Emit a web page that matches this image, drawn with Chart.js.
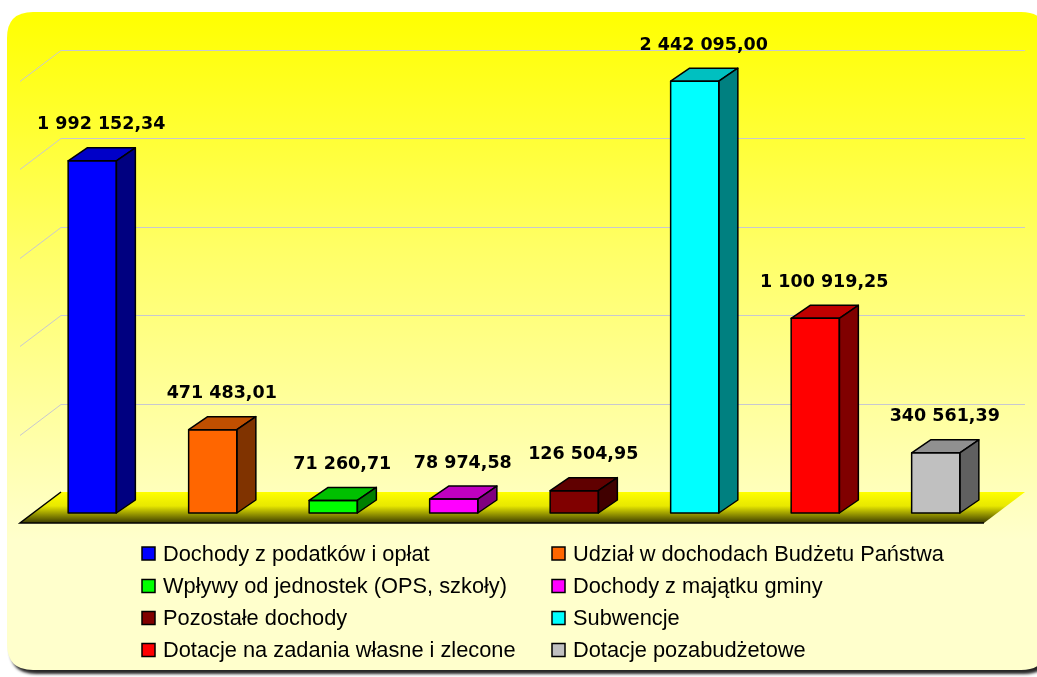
<!DOCTYPE html>
<html>
<head>
<meta charset="utf-8">
<script src="https://cdn.jsdelivr.net/npm/chart.js"></script>
<style>
  html, body { margin: 0; padding: 0; background: #fff; }
  canvas { display: block; }
</style>
</head>
<body>
<canvas id="budget" width="1037" height="677"></canvas>
<script>
// Dochody gminy - 3D bar chart
const categories = [
    'Dochody z podatków i opłat',
    'Udział w dochodach Budżetu Państwa',
    'Wpływy od jednostek (OPS, szkoły)',
    'Dochody z majątku gminy',
    'Pozostałe dochody',
    'Subwencje',
    'Dotacje na zadania własne i zlecone',
    'Dotacje pozabudżetowe'
];
const values = [1992152.34, 471483.01, 71260.71, 78974.58, 126504.95, 2442095.00, 1100919.25, 340561.39];
const gridTicks = [500000, 1000000, 1500000, 2000000, 2500000];

const frontColors = ['#0000ff', '#ff6600', '#00ff00', '#ff00ff', '#800000', '#00ffff', '#ff0000', '#c0c0c0'];
const topColors   = ['#0000c8', '#c04f00', '#00c000', '#c000c0', '#600000', '#00c0c0', '#c00000', '#909090'];
const sideColors  = ['#000080', '#803300', '#008000', '#800080', '#400000', '#008080', '#800000', '#606060'];

const DEPTH = { x: 19, y: 13 };       // bar depth
const FLOOR_FRONT = { x: -12, y: 10 }; // floor edges relative to the bar front plane
const FLOOR_BACK = { x: 29, y: -21 };

function formatPl(v) {
    const parts = v.toFixed(2).split('.');
    return parts[0].replace(/\B(?=(\d{3})+(?!\d))/g, ' ') + ',' + parts[1];
}

function roundRect(ctx, x, y, w, h, r) {
    ctx.beginPath();
    ctx.moveTo(x + r, y);
    ctx.lineTo(x + w - r, y);
    ctx.quadraticCurveTo(x + w, y, x + w, y + r);
    ctx.lineTo(x + w, y + h - r);
    ctx.quadraticCurveTo(x + w, y + h, x + w - r, y + h);
    ctx.lineTo(x + r, y + h);
    ctx.quadraticCurveTo(x, y + h, x, y + h - r);
    ctx.lineTo(x, y + r);
    ctx.quadraticCurveTo(x, y, x + r, y);
    ctx.closePath();
}

function poly(ctx, pts, fill) {
    ctx.beginPath();
    ctx.moveTo(pts[0][0], pts[0][1]);
    for (let i = 1; i < pts.length; i++) ctx.lineTo(pts[i][0], pts[i][1]);
    ctx.closePath();
    ctx.fillStyle = fill;
    ctx.fill();
    ctx.stroke();
}

const scenePlugin = {
    id: 'scene',
    beforeDraw(chart) {
        const ctx = chart.ctx;
        const area = chart.chartArea;
        const yScale = chart.scales.y;

        // panel
        ctx.save();
        ctx.fillStyle = '#ffffff';
        ctx.fillRect(0, 0, chart.width, chart.height);
        ctx.shadowColor = 'rgba(0,0,0,0.85)';
        ctx.shadowOffsetX = 3;
        ctx.shadowOffsetY = 4;
        ctx.shadowBlur = 3;
        const grad = ctx.createLinearGradient(0, 12, 0, 540);
        grad.addColorStop(0, '#ffff00');
        grad.addColorStop(0.45, '#ffff66');
        grad.addColorStop(1, '#ffffcc');
        roundRect(ctx, 7, 12, 1040, 658, 26);
        ctx.fillStyle = grad;
        ctx.fill();
        ctx.restore();

        // back wall + left wall grid
        ctx.save();
        ctx.strokeStyle = '#c8c8d0';
        ctx.lineWidth = 1;
        gridTicks.forEach(v => {
            const y = Math.round(yScale.getPixelForValue(v)) + 0.5;
            ctx.beginPath();
            ctx.moveTo(area.left + FLOOR_FRONT.x, y + FLOOR_FRONT.y);
            ctx.lineTo(area.left + FLOOR_BACK.x, y + FLOOR_BACK.y);
            ctx.lineTo(area.right + FLOOR_BACK.x, y + FLOOR_BACK.y);
            ctx.stroke();
        });
        ctx.restore();

        // floor
        ctx.save();
        const base = yScale.getPixelForValue(0);
        const fGrad = ctx.createLinearGradient(0, base + FLOOR_BACK.y, 0, base + FLOOR_FRONT.y);
        fGrad.addColorStop(0, '#ffff00');
        fGrad.addColorStop(0.45, '#e8e800');
        fGrad.addColorStop(1, '#3c3c00');
        ctx.beginPath();
        ctx.moveTo(area.left + FLOOR_FRONT.x, base + FLOOR_FRONT.y);
        ctx.lineTo(area.left + FLOOR_BACK.x, base + FLOOR_BACK.y);
        ctx.lineTo(area.right + FLOOR_BACK.x, base + FLOOR_BACK.y);
        ctx.lineTo(area.right + FLOOR_FRONT.x, base + FLOOR_FRONT.y);
        ctx.closePath();
        ctx.fillStyle = fGrad;
        ctx.fill();
        ctx.strokeStyle = '#000';
        ctx.lineWidth = 1.5;
        ctx.beginPath();
        ctx.moveTo(area.left + FLOOR_BACK.x, base + FLOOR_BACK.y);
        ctx.lineTo(area.left + FLOOR_FRONT.x, base + FLOOR_FRONT.y);
        ctx.lineTo(area.right + FLOOR_FRONT.x, base + FLOOR_FRONT.y);
        ctx.stroke();
        ctx.restore();
    },
    afterDatasetsDraw(chart) {
        const ctx = chart.ctx;
        const meta = chart.getDatasetMeta(0);
        ctx.save();
        ctx.strokeStyle = '#000';
        ctx.lineWidth = 1.5;
        ctx.lineJoin = 'round';
        meta.data.forEach((bar, i) => {
            const p = bar.getProps(['x', 'y', 'base', 'width'], true);
            const l = p.x - p.width / 2, r = p.x + p.width / 2;
            const t = p.y, b = p.base;
            poly(ctx, [[l, t], [l + DEPTH.x, t - DEPTH.y], [r + DEPTH.x, t - DEPTH.y], [r, t]], topColors[i]);
            poly(ctx, [[r, t], [r + DEPTH.x, t - DEPTH.y], [r + DEPTH.x, b - DEPTH.y], [r, b]], sideColors[i]);
            ctx.strokeRect(l, t, r - l, b - t);

            ctx.fillStyle = '#000';
            ctx.font = 'bold 17.5px "DejaVu Sans", Verdana, sans-serif';
            ctx.textAlign = 'center';
            ctx.textBaseline = 'middle';
            ctx.fillText(formatPl(values[i]), p.x + 9, t - 36);
        });
        ctx.restore();
    },
    afterDraw(chart) {
        const ctx = chart.ctx;
        const cols = [142, 552];
        const rows = [553.5, 586, 618, 650];
        ctx.save();
        ctx.font = '21.8px "Liberation Sans", Arial, sans-serif';
        ctx.textBaseline = 'middle';
        ctx.textAlign = 'left';
        categories.forEach((name, i) => {
            const x = cols[i % 2], y = rows[Math.floor(i / 2)];
            ctx.fillStyle = frontColors[i];
            ctx.fillRect(x, y - 6.5, 13, 13);
            ctx.strokeStyle = '#000';
            ctx.lineWidth = 1.5;
            ctx.strokeRect(x, y - 6.5, 13, 13);
            ctx.fillStyle = '#000';
            ctx.fillText(name, x + 21, y + 1);
        });
        ctx.restore();
    }
};

new Chart(document.getElementById('budget').getContext('2d'), {
    type: 'bar',
    data: {
        labels: categories,
        datasets: [{
            data: values,
            backgroundColor: frontColors,
            borderWidth: 0,
            barPercentage: 0.4,
            categoryPercentage: 1
        }]
    },
    options: {
        responsive: false,
        animation: false,
        layout: { padding: { left: 32, right: 41, top: 71, bottom: 164 } },
        scales: {
            x: { display: false },
            y: { display: false, min: 0, max: 2500000 }
        },
        plugins: {
            legend: { display: false },
            tooltip: { enabled: false }
        }
    },
    plugins: [scenePlugin]
});
</script>
</body>
</html>
